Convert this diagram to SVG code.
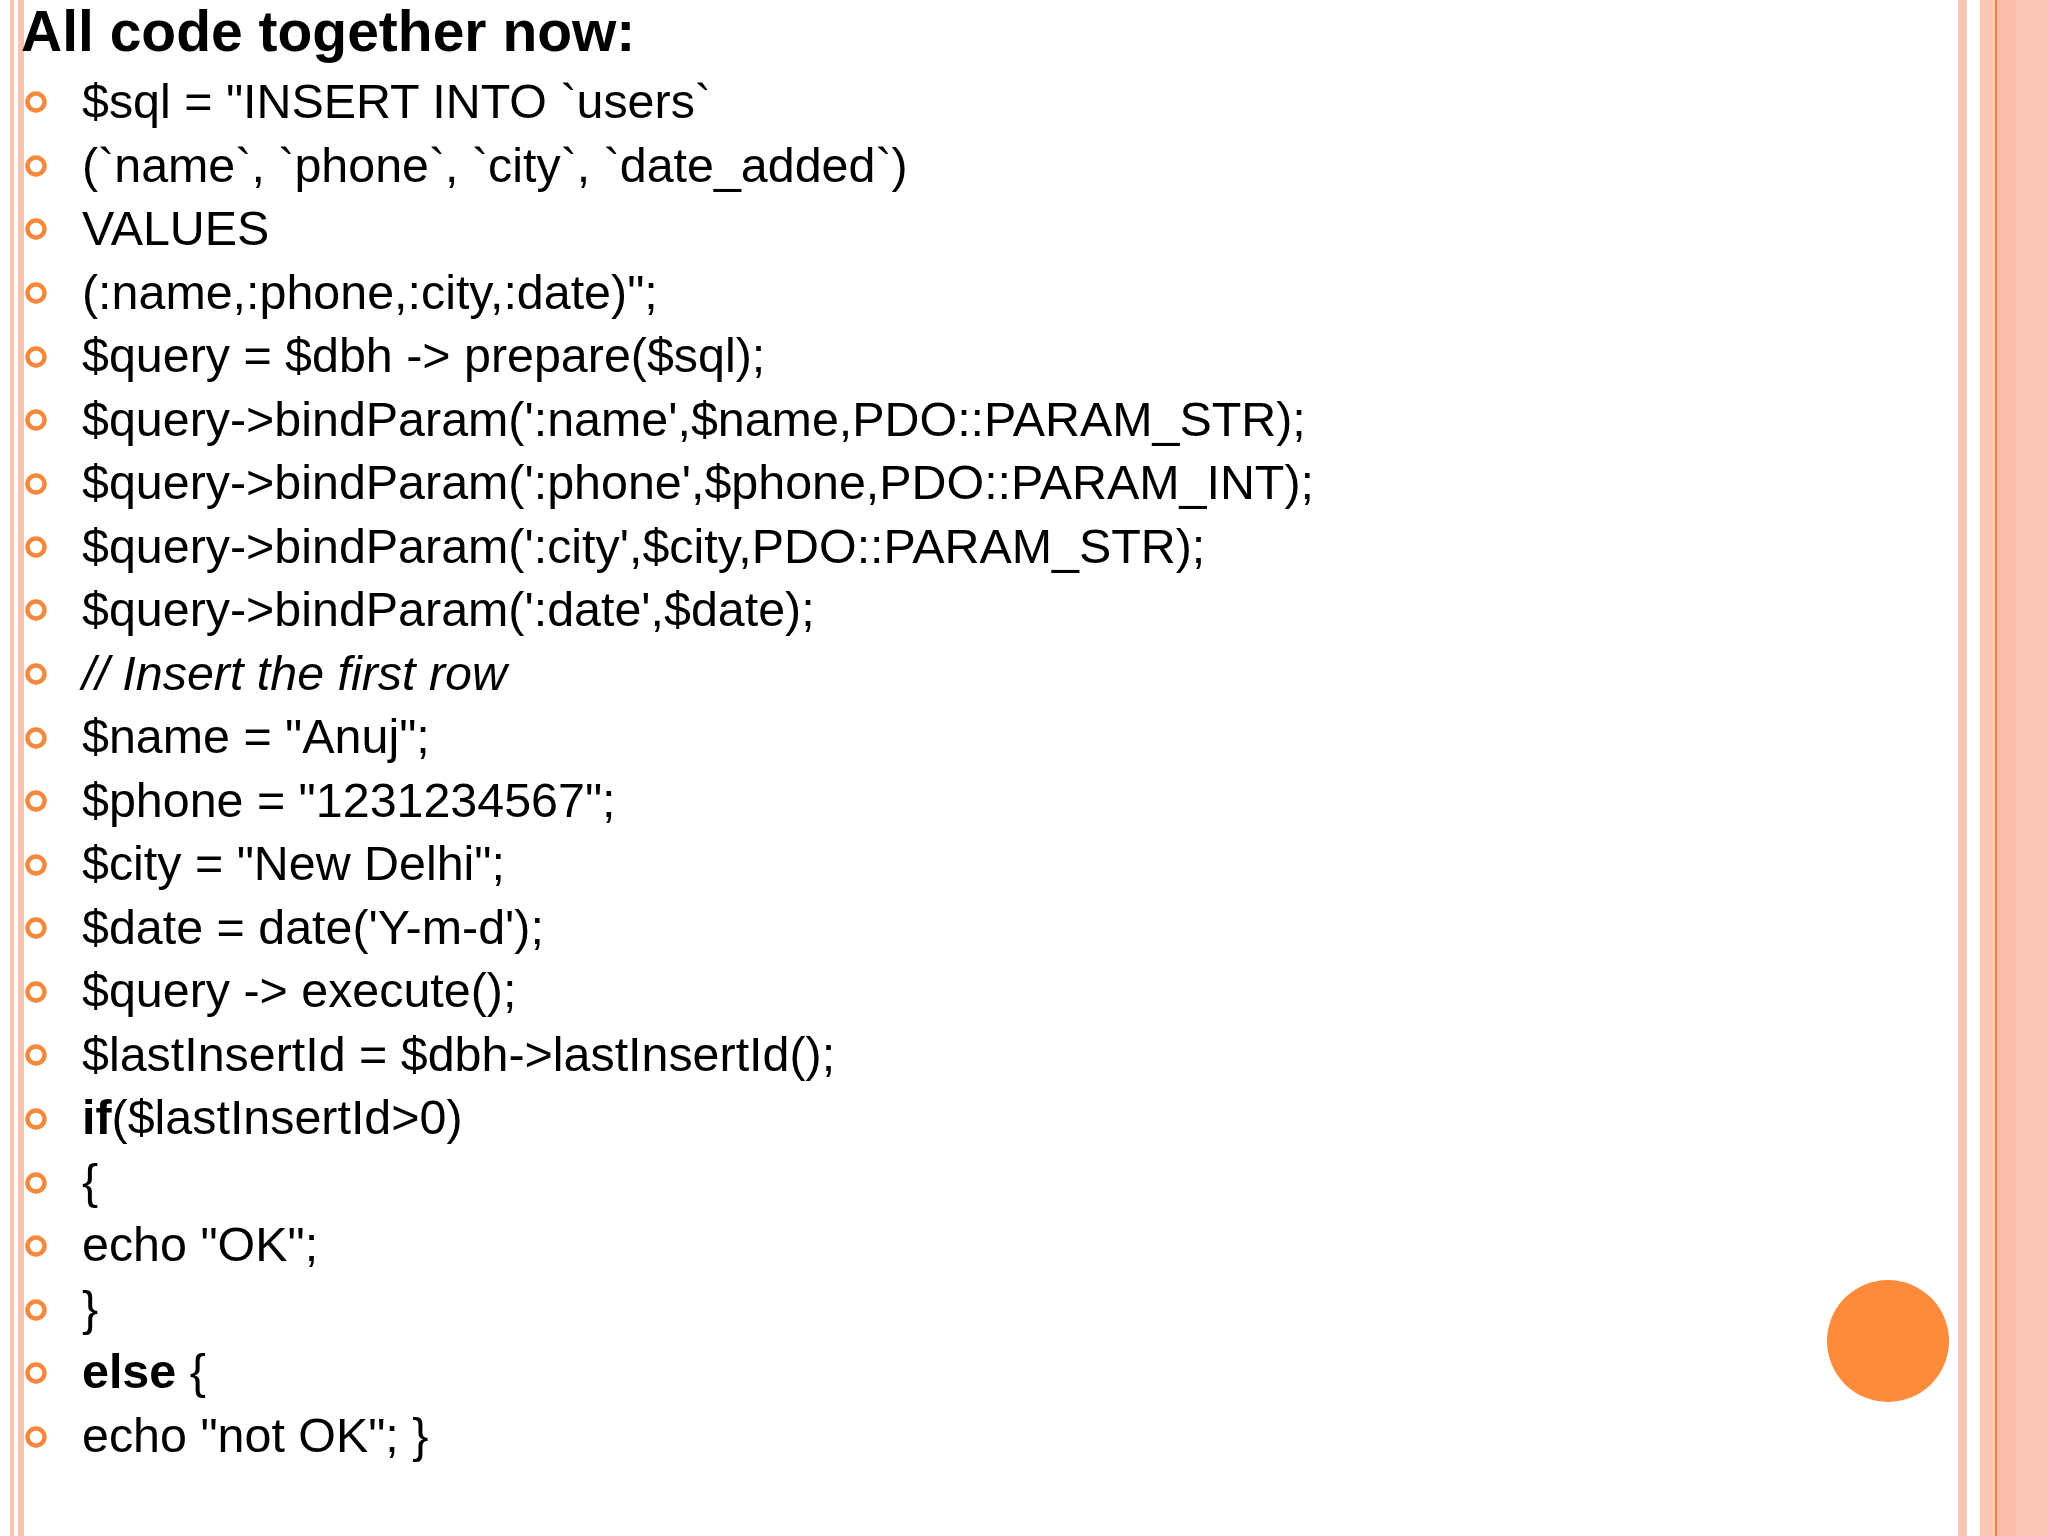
<svg xmlns="http://www.w3.org/2000/svg" width="2048" height="1536" viewBox="0 0 2048 1536">
<style>
.t{font-family:"Liberation Sans",Arial,sans-serif;font-size:48.4px;fill:#000}
.b{fill:none;stroke:#F5883C;stroke-width:4.5}
</style>
<rect width="2048" height="1536" fill="#fff"/>
<rect x="10" y="0" width="4" height="1536" fill="#F9C3B0"/>
<rect x="18" y="0" width="6" height="1536" fill="#F9C3B0"/>
<rect x="1958" y="0" width="9" height="1536" fill="#FAC5B2"/>
<rect x="1980" y="0" width="68" height="1536" fill="#FAC8B4"/>
<rect x="1996" y="0" width="20" height="1536" fill="#F8BDA8"/>
<rect x="1995" y="0" width="2" height="1536" fill="#F08040"/>
<text x="21" y="51" style="font-family:'Liberation Sans',Arial,sans-serif;font-size:57px;font-weight:bold">All code together now:</text>
<g id="bullets">
<circle class="b" cx="36" cy="102" r="8.5"/><circle class="b" cx="36" cy="166" r="8.5"/><circle class="b" cx="36" cy="229" r="8.5"/><circle class="b" cx="36" cy="293" r="8.5"/><circle class="b" cx="36" cy="357" r="8.5"/><circle class="b" cx="36" cy="420" r="8.5"/><circle class="b" cx="36" cy="484" r="8.5"/><circle class="b" cx="36" cy="547" r="8.5"/><circle class="b" cx="36" cy="610" r="8.5"/><circle class="b" cx="36" cy="674" r="8.5"/><circle class="b" cx="36" cy="738" r="8.5"/><circle class="b" cx="36" cy="801" r="8.5"/><circle class="b" cx="36" cy="865" r="8.5"/><circle class="b" cx="36" cy="928" r="8.5"/><circle class="b" cx="36" cy="992" r="8.5"/><circle class="b" cx="36" cy="1055" r="8.5"/><circle class="b" cx="36" cy="1119" r="8.5"/><circle class="b" cx="36" cy="1183" r="8.5"/><circle class="b" cx="36" cy="1246" r="8.5"/><circle class="b" cx="36" cy="1310" r="8.5"/><circle class="b" cx="36" cy="1373" r="8.5"/><circle class="b" cx="36" cy="1437" r="8.5"/>
</g>
<g id="code" class="t">
<text class="t" x="82" y="118">$sql = "INSERT INTO `users`</text>
<text class="t" x="82" y="182">(`name`, `phone`, `city`, `date_added`)</text>
<text class="t" x="82" y="245">VALUES</text>
<text class="t" x="82" y="309">(:name,:phone,:city,:date)";</text>
<text class="t" x="82" y="372">$query = $dbh -&gt; prepare($sql);</text>
<text class="t" x="82" y="436">$query-&gt;bindParam(':name',$name,PDO::PARAM_STR);</text>
<text class="t" x="82" y="499">$query-&gt;bindParam(':phone',$phone,PDO::PARAM_INT);</text>
<text class="t" x="82" y="563">$query-&gt;bindParam(':city',$city,PDO::PARAM_STR);</text>
<text class="t" x="82" y="626">$query-&gt;bindParam(':date',$date);</text>
<text class="t" x="82" y="690" font-style="italic">// Insert the first row</text>
<text class="t" x="82" y="753">$name = "Anuj";</text>
<text class="t" x="82" y="817">$phone = "1231234567";</text>
<text class="t" x="82" y="880">$city = "New Delhi";</text>
<text class="t" x="82" y="944">$date = date('Y-m-d');</text>
<text class="t" x="82" y="1007">$query -&gt; execute();</text>
<text class="t" x="82" y="1071">$lastInsertId = $dbh-&gt;lastInsertId();</text>
<text class="t" x="82" y="1134"><tspan font-weight="bold">if</tspan>($lastInsertId&gt;0)</text>
<text class="t" x="82" y="1198">{</text>
<text class="t" x="82" y="1261">echo "OK";</text>
<text class="t" x="82" y="1325">}</text>
<text class="t" x="82" y="1388"><tspan font-weight="bold">else</tspan> {</text>
<text class="t" x="82" y="1452">echo "not OK"; }</text>
</g>
<circle cx="1888" cy="1341" r="61" fill="#FE8A3B"/>
</svg>
